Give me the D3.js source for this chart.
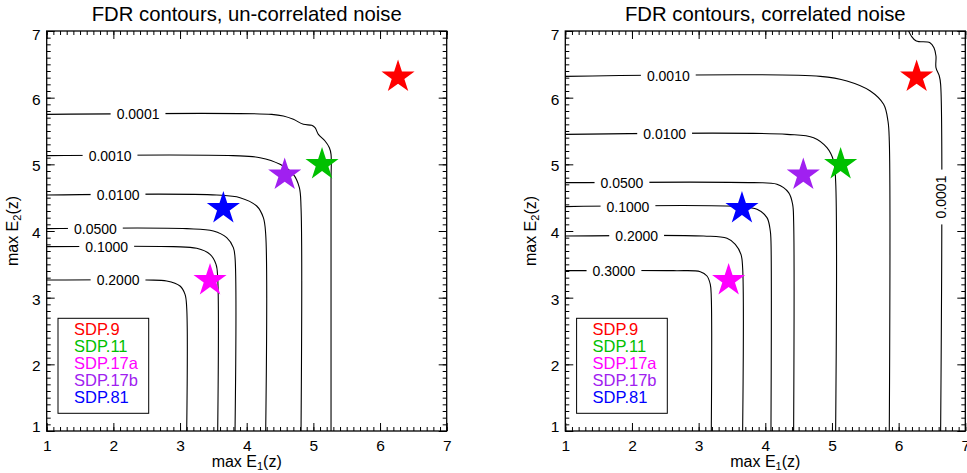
<!DOCTYPE html>
<html>
<head>
<meta charset="utf-8">
<script src="https://cdn.jsdelivr.net/npm/d3@7"></script>
<style>
  body { margin: 0; background: #fff; }
  text { font-family: "Liberation Sans", Arial, Helvetica, sans-serif; fill: #000; }
</style>
</head>
<body>
<svg id="chart" width="967" height="473"></svg>
<script>
// axis ticks
var majorTicks = [1, 2, 3, 4, 5, 6, 7];

// the five sources shown as stars (same in both panels)
var sourceNames = ["SDP.9", "SDP.11", "SDP.17a", "SDP.17b", "SDP.81"];
var sourceE1 = [6.27, 5.13, 3.45, 4.57, 3.65];
var sourceE2 = [6.31, 5.00, 3.26, 4.84, 4.34];
var sourceColors = ["#ff0000", "#00c000", "#ff00ff", "#a020f0", "#0000ff"];

// left panel: FDR contours, un-correlated noise
var uncorrLevels = ["0.0001", "0.0010", "0.0100", "0.0500", "0.1000", "0.2000"];
var uncorrPaths = [
  [[1, 5.75], [4.375, 5.75], [4.55, 5.725], [4.7, 5.675], [4.85, 5.6], [4.975, 5.585], [5.025, 5.55], [5.075, 5.45], [5.175, 5.35], [5.24, 5.25], [5.265, 5.15], [5.265, 4.75], [5.265, 1]],
  [[1, 5.13], [3.795, 5.13], [4.2, 5.10], [4.5, 5.0], [4.7, 4.85], [4.79, 4.65], [4.815, 4.35], [4.815, 1]],
  [[1, 4.54], [3.55, 4.54], [3.9, 4.50], [4.15, 4.375], [4.25, 4.20], [4.285, 3.95], [4.285, 1]],
  [[1, 4.035], [3.1, 4.035], [3.5, 4.0], [3.7, 3.9], [3.8, 3.75], [3.825, 3.6], [3.825, 1]],
  [[1, 3.765], [2.9, 3.765], [3.25, 3.74], [3.45, 3.65], [3.54, 3.50], [3.565, 3.30], [3.565, 1]],
  [[1, 3.265], [2.5, 3.265], [2.8, 3.25], [3.0, 3.175], [3.075, 3.05], [3.1, 2.85], [3.1, 1]]
];
var uncorrLabelAt = [[2.37, 5.75], [1.95, 5.13], [2.07, 4.54], [1.73, 4.035], [1.90, 3.765], [2.07, 3.265]];

// right panel: FDR contours, correlated noise
var corrLevels = ["0.0001", "0.0010", "0.0100", "0.0500", "0.1000", "0.2000", "0.3000"];
var corrPaths = [
  [[6.15, 7], [6.19, 6.925], [6.265, 6.85], [6.47, 6.825], [6.53, 6.75], [6.56, 6.625], [6.56, 6.45], [6.61, 6.325], [6.63, 6.2], [6.63, 1]],
  [[1, 6.32], [4.825, 6.32], [5.225, 6.25], [5.575, 6.10], [5.775, 5.90], [5.84, 5.65], [5.86, 5.35], [5.86, 1]],
  [[1, 5.45], [4.325, 5.45], [4.725, 5.40], [4.925, 5.25], [5.025, 5.05], [5.055, 4.75], [5.055, 1]],
  [[1, 4.725], [3.825, 4.725], [4.175, 4.70], [4.35, 4.575], [4.41, 4.40], [4.425, 4.15], [4.425, 1]],
  [[1, 4.365], [3.625, 4.365], [3.875, 4.325], [4.025, 4.20], [4.075, 4.0], [4.085, 3.85], [4.085, 1]],
  [[1, 3.925], [3.075, 3.925], [3.425, 3.89], [3.55, 3.80], [3.635, 3.65], [3.66, 3.45], [3.66, 1]],
  [[1, 3.405], [2.625, 3.405], [3.025, 3.39], [3.125, 3.325], [3.175, 3.20], [3.19, 3.0], [3.19, 1]]
];
var corrLabelAt = [[6.63, 4.51], [2.545, 6.32], [2.49, 5.45], [1.85, 4.725], [1.94, 4.365], [2.07, 3.925], [1.73, 3.405]];

var svg = d3.select("#chart");
var plotSize = 400, plotTop = 31;

// screen angle (degrees) of the contour segment closest to a label point
function labelAngle(path, pt) {
  var best = null, bestD = Infinity;
  for (var i = 0; i < path.length - 1; i++) {
    var a = path[i], b = path[i + 1];
    var dx = b[0] - a[0], dy = b[1] - a[1];
    var t = ((pt[0] - a[0]) * dx + (pt[1] - a[1]) * dy) / (dx * dx + dy * dy || 1);
    t = Math.max(0, Math.min(1, t));
    var ex = a[0] + t * dx - pt[0], ey = a[1] + t * dy - pt[1];
    var d = ex * ex + ey * ey;
    if (d < bestD) { bestD = d; best = [dx, dy]; }
  }
  var ang = Math.atan2(-best[1], best[0]) * 180 / Math.PI;
  if (ang >= 90) ang -= 180;
  if (ang < -90) ang += 180;
  return ang;
}

function drawPanel(x0, title, levels, paths, labelAt) {
  var x = d3.scaleLinear().domain([1, 7]).range([x0, x0 + plotSize]);
  var y = d3.scaleLinear().domain([1, 7]).range([plotTop + plotSize, plotTop]);
  var minor = d3.range(10, 71).map(function(d) { return d / 10; });
  var g = svg.append("g");

  // minor ticks on all four sides
  g.append("g").attr("transform", "translate(0," + y(1) + ")")
    .call(d3.axisBottom(x).tickValues(minor).tickSize(-4).tickFormat(""));
  g.append("g").attr("transform", "translate(0," + y(7) + ")")
    .call(d3.axisTop(x).tickValues(minor).tickSize(-4).tickFormat(""));
  g.append("g").attr("transform", "translate(" + x(1) + ",0)")
    .call(d3.axisLeft(y).tickValues(minor).tickSize(-4).tickFormat(""));
  g.append("g").attr("transform", "translate(" + x(7) + ",0)")
    .call(d3.axisRight(y).tickValues(minor).tickSize(-4).tickFormat(""));

  // major ticks + labels
  var xb = g.append("g").attr("transform", "translate(0," + y(1) + ")")
    .call(d3.axisBottom(x).tickValues(majorTicks).tickSize(-8).tickPadding(9).tickFormat(d3.format("d")));
  g.append("g").attr("transform", "translate(0," + y(7) + ")")
    .call(d3.axisTop(x).tickValues(majorTicks).tickSize(-8).tickFormat(""));
  var yl = g.append("g").attr("transform", "translate(" + x(1) + ",0)")
    .call(d3.axisLeft(y).tickValues(majorTicks).tickSize(-8).tickPadding(6).tickFormat(d3.format("d")));
  g.append("g").attr("transform", "translate(" + x(7) + ",0)")
    .call(d3.axisRight(y).tickValues(majorTicks).tickSize(-8).tickFormat(""));

  g.selectAll(".domain").remove();
  g.selectAll(".tick line").attr("stroke", "#000").attr("stroke-width", 1);
  xb.selectAll("text").attr("font-size", 15.5).attr("fill", "#000");
  yl.selectAll("text").attr("font-size", 15.5).attr("fill", "#000")
    .attr("dy", function(d) { return d === 1 ? "0.0em" : d === 7 ? "0.55em" : "0.42em"; });

  // frame
  g.append("rect")
    .attr("x", x(1)).attr("y", y(7))
    .attr("width", plotSize).attr("height", plotSize)
    .attr("fill", "none").attr("stroke", "#000").attr("stroke-width", 1.3);

  // contours
  var line = d3.line()
    .x(function(d) { return x(d[0]); })
    .y(function(d) { return y(d[1]); })
    .curve(d3.curveCatmullRom.alpha(0.5));

  g.selectAll(".contour").data(paths).enter().append("path")
    .attr("class", "contour")
    .attr("d", line)
    .attr("fill", "none").attr("stroke", "#000").attr("stroke-width", 1.1);

  // contour labels (break the line with a white box)
  levels.forEach(function(lev, i) {
    var pt = labelAt[i];
    var ang = labelAngle(paths[i], pt);
    var lg = g.append("g")
      .attr("transform", "translate(" + x(pt[0]) + "," + y(pt[1]) + ") rotate(" + ang + ")");
    var t = lg.append("text")
      .attr("text-anchor", "middle").attr("dy", "0.36em")
      .attr("font-size", 14).text(lev);
    var w = t.node().getComputedTextLength();
    lg.insert("rect", "text")
      .attr("x", -w / 2 - 6).attr("y", -6)
      .attr("width", w + 12).attr("height", 12)
      .attr("fill", "#fff");
  });

  // stars
  var star = d3.symbol().type(d3.symbolStar).size(340);
  g.selectAll(".star").data(sourceNames).enter().append("path")
    .attr("class", "star")
    .attr("d", star)
    .attr("transform", function(d, i) { return "translate(" + x(sourceE1[i]) + "," + y(sourceE2[i]) + ")"; })
    .attr("fill", function(d, i) { return sourceColors[i]; });

  // legend
  var lx = x(1) + 11.3, ly = plotTop + 287.3;
  g.append("rect")
    .attr("x", lx).attr("y", ly).attr("width", 90.7).attr("height", 95)
    .attr("fill", "#fff").attr("stroke", "#000").attr("stroke-width", 1);
  g.selectAll(".leg").data(sourceNames).enter().append("text")
    .attr("class", "leg")
    .attr("x", lx + 16).attr("y", function(d, i) { return ly + 16.7 + i * 17; })
    .attr("font-size", 16.5)
    .style("fill", function(d, i) { return sourceColors[i]; })
    .text(function(d) { return d; });

  // title
  g.append("text")
    .attr("x", x0 + plotSize / 2).attr("y", 21)
    .attr("text-anchor", "middle").attr("font-size", 20.3)
    .text(title);

  // x axis title
  var xt = g.append("text")
    .attr("x", x0 + plotSize / 2).attr("y", 467)
    .attr("text-anchor", "middle").attr("font-size", 16);
  xt.append("tspan").text("max E");
  xt.append("tspan").attr("font-size", 11).attr("dy", 3).text("1");
  xt.append("tspan").attr("dy", -3).text("(z)");

  // y axis title
  var yt = g.append("text")
    .attr("transform", "translate(" + (x0 - 29) + "," + (plotTop + plotSize / 2) + ") rotate(-90)")
    .attr("text-anchor", "middle").attr("font-size", 16);
  yt.append("tspan").text("max E");
  yt.append("tspan").attr("font-size", 11).attr("dy", 3).text("2");
  yt.append("tspan").attr("dy", -3).text("(z)");
}

drawPanel(46.7, "FDR contours, un-correlated noise", uncorrLevels, uncorrPaths, uncorrLabelAt);
drawPanel(565.3, "FDR contours, correlated noise", corrLevels, corrPaths, corrLabelAt);
</script>
</body>
</html>
